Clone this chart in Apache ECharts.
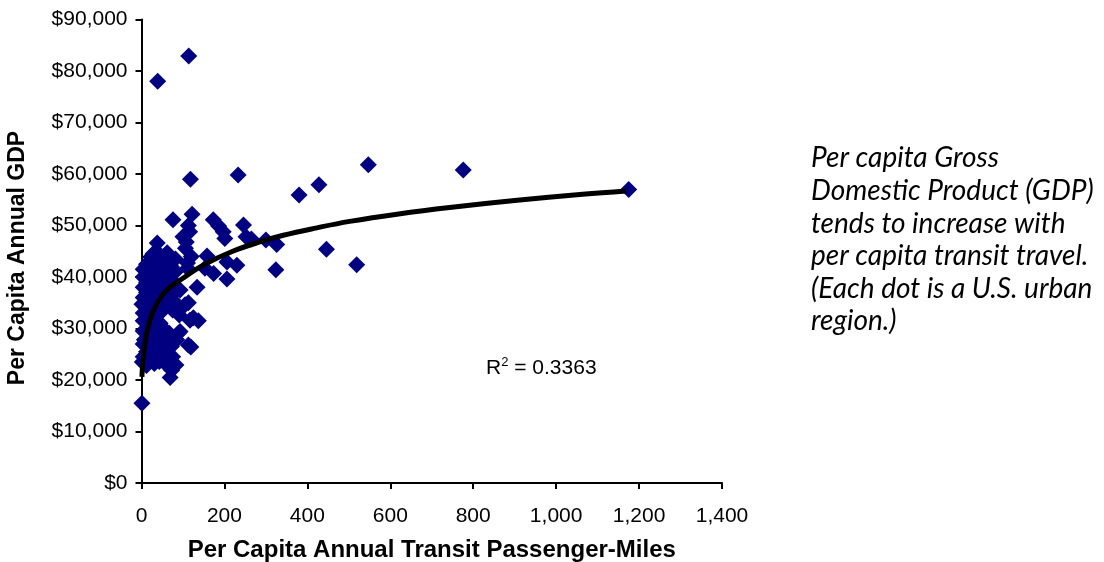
<!DOCTYPE html>
<html>
<head>
<meta charset="utf-8">
<script src="https://cdn.jsdelivr.net/npm/echarts@6/dist/echarts.min.js"></script>
<style>
html,body{margin:0;padding:0;background:#fff;}
#chart{width:1104px;height:562px;}
</style>
</head>
<body>
<div id="chart"></div>
<script>
// Per capita annual transit passenger-miles (x) and per capita annual GDP (y)
var transitMiles = [
  39,114,118,233,547,776,1175,380,428,446,519,324,300,326,265,252,246,
  122,76,113,116,173,186,197,201,100,106,108,
  38,62,22,158,111,120,206,230,153,174,206,134,93,105,113,117,137,125,113,93,89,85,119,67,69,75,83,73,59,57,27,7,15,31,43,91,75,1,1,2,111,
  4,4,4,4,4,4,4,4,4,
  12,12,12,12,12,12,12,12,
  20,20,20,20,20,20,20,20,20,
  28,28,28,28,28,28,28,28,
  36,36,36,36,36,36,36,36,36,
  45,45,45,45,45,45,45,45,
  53,53,53,53,53,53,53,
  62,62,62,62,62,
  72,72,72,72,
  82,82,82,82
];
var gdpPerCapita = [
  78000,82900,59000,59800,61800,60800,57000,55900,57900,45400,42400,41400,47200,46300,47400,47800,50100,
  52200,51100,50000,48800,51100,49900,48800,47500,47800,45600,46800,
  46600,44700,43900,44100,42700,44000,42900,42300,41700,40700,39600,38000,37500,34600,35000,31600,31500,32100,26800,29400,29100,27800,26400,29100,20500,24500,22900,21900,25800,23200,27800,27800,23900,23200,23600,32600,33600,15500,34700,23500,41700,
  24500,27000,29500,31500,33000,36000,38000,40000,41500,
  22800,25500,30000,32500,34500,37000,39000,42500,
  24800,26500,29000,31000,33500,36000,38500,40500,41800,
  25500,30500,32500,35000,37500,40000,42500,44500,
  24500,27000,29500,34000,36500,39000,41000,43000,45000,
  26000,28500,31000,33000,35500,38000,40500,42000,
  27500,30000,34500,37000,39500,41500,43500,
  28000,35500,38500,40500,42500,
  26500,36500,39500,42000,
  35000,38000,41000,43500
];
// Logarithmic trend line
var trendMiles = [1,3,7,15,31,59,99,151,220,285,342,420,502,620,743,900,1064,1169];
var trendGdp = [20600,23300,26200,30000,33900,37300,39700,42400,45000,46800,48100,49500,50800,52250,53500,54850,56050,56700];

var xTickLabels = ['0','200','400','600','800','1,000','1,200','1,400'];
var yTickLabels = ['$0','$10,000','$20,000','$30,000','$40,000','$50,000','$60,000','$70,000','$80,000','$90,000'];

var xTitle = 'Per Capita Annual Transit Passenger-Miles';
var yTitle = 'Per Capita Annual GDP';
var rSquaredText = '0.3363';
var noteLines = [
  'Per capita Gross',
  'Domestic Product (GDP)',
  'tends to increase with',
  'per capita transit travel.',
  '(Each dot is a U.S. urban',
  'region.)'
];

var points = transitMiles.map(function(x, i){ return [x, gdpPerCapita[i]]; });
var trend = trendMiles.map(function(x, i){ return [x, trendGdp[i]]; });

var chart = echarts.init(document.getElementById('chart'), null, {renderer:'canvas'});
var font = '"Liberation Sans", Arial, sans-serif';
chart.setOption({
  animation: false,
  backgroundColor: '#fff',
  grid: {left: 141.5, right: 382, top: 19.5, bottom: 79, containLabel: false, outerBoundsMode: 'none'},
  xAxis: {
    type: 'value', min: 0, max: 1400, interval: 200,
    name: xTitle,
    nameLocation: 'middle', nameGap: 55,
    nameTextStyle: {fontFamily: font, fontSize: 24, fontWeight: 'bold', color: '#000'},
    axisLine: {show: true, onZero: false, lineStyle: {color: '#000', width: 2}},
    axisTick: {show: true, inside: false, length: 6, lineStyle: {color: '#000', width: 2}},
    axisLabel: {margin: 23, fontFamily: font, fontSize: 21, color: '#000',
      formatter: function(v){ return xTickLabels[Math.round(v/200)]; }},
    splitLine: {show: false}
  },
  yAxis: {
    type: 'value', min: 0, max: 90000, interval: 10000,
    axisLine: {show: true, onZero: false, lineStyle: {color: '#000', width: 2}},
    axisTick: {show: true, inside: false, length: 6, lineStyle: {color: '#000', width: 2}},
    axisLabel: {margin: 14, fontFamily: font, fontSize: 21, color: '#000',
      formatter: function(v){ return yTickLabels[Math.round(v/10000)]; }},
    splitLine: {show: false}
  },
  series: [
    {
      type: 'scatter', data: points, symbol: 'diamond', symbolSize: 17,
      itemStyle: {color: '#000080', opacity: 1}, z: 2
    },
    {
      type: 'line', data: trend, smooth: 0.4, showSymbol: false,
      lineStyle: {color: '#000', width: 5}, z: 3
    }
  ],
  graphic: [
    {
      type: 'text', x: 18, y: 258, rotation: Math.PI / 2,
      style: {
        text: yTitle, fontFamily: font, fontSize: 23, fontWeight: 'bold', fill: '#000',
        align: 'center', verticalAlign: 'middle'
      }
    },
    {
      type: 'text', left: 486, top: 356,
      style: {
        text: '{r|R}{s|2}{r| = ' + rSquaredText + '}',
        rich: {
          r: {fontFamily: font, fontSize: 21, fill: '#000'},
          s: {fontFamily: font, fontSize: 13, fill: '#000', padding: [0,0,12,0]}
        }
      }
    },
    {
      type: 'text', left: 811, top: 142,
      style: {
        text: noteLines.join('\n'),
        fontFamily: 'Lato, "Open Sans", sans-serif', fontStyle: 'italic', fontSize: 28,
        lineHeight: 32.6, fill: '#000'
      }
    }
  ]
});
</script>
</body>
</html>
